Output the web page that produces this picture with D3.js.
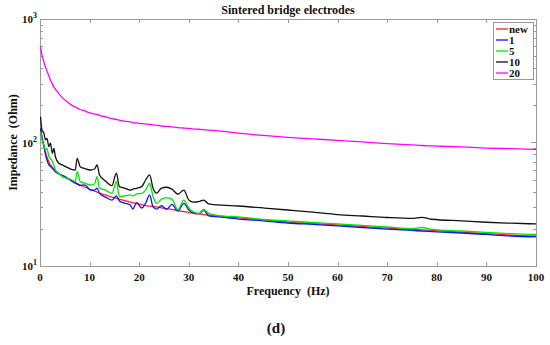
<!DOCTYPE html>
<html>
<head>
<meta charset="utf-8">
<script src="https://cdn.jsdelivr.net/npm/d3@7"></script>
<style>
  body { margin: 0; background: #fff; }
</style>
</head>
<body>
<div id="chart"></div>
<script>
// frequency grid (Hz) shared by all series
const freq = [0.1, 0.4, 0.8, 1.1, 1.4, 1.8, 2.1, 2.5, 2.8, 3.1, 3.8, 4.5, 5.5, 6.5, 7.1, 7.5, 8.1, 9, 10.2, 11,
	11.5, 12, 13.2, 14.5, 15.4, 16, 17, 18.2, 18.7, 19.5, 20.5, 21.3, 22.1, 22.8, 23.5, 24.5, 25.5, 26.6, 27.8, 29,
	30, 31, 32, 33, 34, 36, 40, 45, 50, 55, 60, 65, 70, 75, 77, 79, 85, 90, 95, 100];

// impedance (Ohm) per electrode state
const zNew = [131, 111, 93.5, 83.5, 76.3, 69.5, 65.8, 62.9, 61.0, 59.3, 56.1, 53.5, 51.0, 48.8, 47.5, 46.6, 45.3, 43.6, 41.6, 40.4,
	39.7, 38.9, 37.6, 36.1, 35.5, 34.8, 33.9, 32.9, 32.6, 32.0, 31.4, 30.8, 30.5, 30.3, 30.1, 29.5, 29.2, 28.7, 28.1, 27.6,
	27.1, 26.9, 26.6, 26.1, 25.8, 25.4, 24.5, 23.6, 22.7, 22.1, 21.5, 20.9, 20.3, 19.8, 19.6, 19.4, 18.8, 18.3, 17.8, 17.5];
const z1 = [130, 109, 92.5, 80.6, 72.1, 65.8, 64.1, 61.6, 59.9, 58.0, 55.6, 54.1, 51.6, 48.4, 46.8, 46.1, 44.9, 45.3, 41.2, 41.2,
	42.6, 38.9, 36.1, 34.2, 36.9, 33.6, 32.3, 31.2, 28.9, 32.6, 29.5, 32.2, 37.6, 30.1, 28.9, 30.8, 28.8, 31.6, 27.9, 32.2,
	28.4, 26.7, 26.4, 28.4, 25.5, 25.0, 24.0, 23.2, 22.3, 21.7, 21.1, 20.5, 19.9, 19.4, 19.2, 19.0, 18.5, 18.0, 17.5, 17.2];
const z5 = [122, 105, 95.3, 86.9, 89.6, 76.7, 74.2, 70, 65.8, 59.9, 56.1, 52.9, 51.3, 49.7, 48.2, 58.1, 48.2, 46.9, 45.3, 46.1,
	52.9, 42.6, 41.2, 38.8, 48.2, 36.4, 36.9, 37.6, 36.9, 38.3, 38.8, 41.2, 46.8, 36.4, 32.2, 34.8, 35.6, 34.8, 28.4, 34.2,
	29.5, 27.3, 26.6, 28.6, 26.7, 25.6, 25.0, 23.8, 23.2, 22.5, 21.9, 21.3, 20.7, 20.1, 20.5, 19.8, 19.2, 18.7, 18.3, 18.0];
const z10 = [162, 126, 119, 105, 108, 92.5, 99, 81.6, 89.6, 76.7, 67.9, 65.8, 62.9, 60.4, 59.9, 74.5, 63.7, 61.6, 59.9, 61,
	65.8, 54.6, 48.8, 44.8, 56.4, 43.9, 42.8, 41.2, 41.9, 42.6, 43.9, 49.7, 54.6, 42.6, 38.9, 42.8, 43.4, 41.9, 38.1, 41.2,
	34.2, 32.9, 33.2, 34.2, 31.8, 31.2, 30.6, 29.5, 28.4, 27.3, 26.1, 25.4, 24.7, 24.3, 24.8, 23.9, 23.2, 22.6, 22.2, 21.9];
const z20 = [600, 511, 448, 409, 379, 345, 321, 298, 281, 271, 249, 231, 213, 199, 194, 190, 185, 180, 173, 170,
	169, 166, 161, 156, 154, 152, 149, 147, 145, 144, 142, 141, 140, 139, 138, 136, 135, 134, 132, 131,
	130, 128.5, 128, 127, 126, 124, 119, 114, 110, 107, 104, 101, 98, 95.5, 94.6, 93.8, 92, 90.2, 89.1, 88.1];

const seriesNames = ["new", "1", "5", "10", "20"];
const seriesValues = [zNew, z1, z5, z10, z20];
const seriesColors = ["#ff2020", "#1010ff", "#00e600", "#111111", "#ff00ff"];

const xTickValues = [0, 10, 20, 30, 40, 50, 60, 70, 80, 90, 100];
const yMajor = [10, 100, 1000];

const width = 550, height = 345;
const margin = { top: 19, right: 14, bottom: 79, left: 40 };

const svg = d3.select("#chart").append("svg")
	.attr("width", width)
	.attr("height", height)
	.attr("font-family", "'Liberation Serif', serif")
	.attr("font-weight", "bold")
	.attr("fill", "#111");

const xScale = d3.scaleLinear().domain([0, 100]).range([margin.left, width - margin.right]);
const yScale = d3.scaleLog().domain([10, 1000]).range([height - margin.bottom, margin.top]);

const x0 = xScale.range()[0], x1 = xScale.range()[1];
const yB = yScale.range()[0], yT = yScale.range()[1];

// minor log ticks
const yMinor = [];
for (const dec of [10, 100]) {
	for (let m = 2; m <= 9; m++) yMinor.push(dec * m);
}

const frame = svg.append("g").attr("stroke", "#9a9a9a").attr("stroke-width", 1).attr("fill", "none");
frame.append("rect")
	.attr("x", x0 + 0.5).attr("y", yT + 0.5)
	.attr("width", x1 - x0).attr("height", yB - yT);

// x ticks (bottom and top, inward)
frame.selectAll(".xt")
	.data(xTickValues)
	.join("path")
	.attr("d", (d) => {
		const x = Math.round(xScale(d)) + 0.5;
		return `M${x},${yB}v-4M${x},${yT}v4`;
	});

// y ticks (left and right)
frame.selectAll(".ymin")
	.data(yMinor)
	.join("path")
	.attr("d", (d) => {
		const y = Math.round(yScale(d)) + 0.5;
		return `M${x0},${y}h3M${x1},${y}h-3`;
	});
frame.selectAll(".ymaj")
	.data(yMajor)
	.join("path")
	.attr("d", (d) => {
		const y = Math.round(yScale(d)) + 0.5;
		return `M${x0},${y}h5M${x1},${y}h-5`;
	});

// data lines
const plot = svg.append("g");
plot.append("clipPath").attr("id", "clip")
	.append("rect").attr("x", x0).attr("y", yT).attr("width", x1 - x0).attr("height", yB - yT);

const line = d3.line()
	.x((d) => xScale(d[0]))
	.y((d) => yScale(d[1]))
	.curve(d3.curveMonotoneX);

plot.selectAll(".series")
	.data(seriesValues)
	.join("path")
	.attr("class", "series")
	.attr("clip-path", "url(#clip)")
	.attr("fill", "none")
	.attr("stroke", (d, i) => seriesColors[i])
	.attr("stroke-width", 1.3)
	.attr("d", (vals) => line(freq.map((f, j) => [f, vals[j]])));

// x tick labels
svg.append("g").selectAll("text")
	.data(xTickValues)
	.join("text")
	.attr("x", (d) => xScale(d))
	.attr("y", yB + 15)
	.attr("text-anchor", "middle")
	.attr("font-size", 11)
	.text((d) => d);

// y tick labels 10^n
const yLab = svg.append("g").selectAll("text")
	.data(yMajor)
	.join("text")
	.attr("x", x0 - 3)
	.attr("y", (d) => yScale(d) + 4)
	.attr("text-anchor", "end")
	.attr("font-size", 11);
yLab.append("tspan").text("10");
yLab.append("tspan").attr("font-size", 8).attr("dy", -5).text((d) => Math.round(Math.log10(d)));

// axis titles
svg.append("text")
	.attr("x", (x0 + x1) / 2)
	.attr("y", yB + 29)
	.attr("text-anchor", "middle")
	.attr("font-size", 12)
	.attr("xml:space", "preserve")
	.text("Frequency  (Hz)");

svg.append("text")
	.attr("transform", `translate(17,${(yT + yB) / 2}) rotate(-90)`)
	.attr("text-anchor", "middle")
	.attr("font-size", 12)
	.attr("xml:space", "preserve")
	.text("Impedance  (Ohm)");

svg.append("text")
	.attr("x", (x0 + x1) / 2)
	.attr("y", 14)
	.attr("text-anchor", "middle")
	.attr("font-size", 12)
	.text("Sintered bridge electrodes");

// legend
const legend = svg.append("g").attr("transform", "translate(493,22)");
legend.append("rect")
	.attr("x", 0.5).attr("y", 0.5)
	.attr("width", 40).attr("height", 57)
	.attr("fill", "#fff")
	.attr("stroke", "#9a9a9a");
const rows = legend.selectAll(".row")
	.data(seriesNames)
	.join("g")
	.attr("transform", (d, i) => `translate(0,${7 + i * 11})`);
rows.append("line")
	.attr("x1", 3).attr("x2", 15)
	.attr("stroke", (d, i) => seriesColors[i])
	.attr("stroke-width", 1.3);
rows.append("text")
	.attr("x", 16)
	.attr("y", 4)
	.attr("font-size", 11)
	.text((d) => d);

// panel label
svg.append("text")
	.attr("x", 276)
	.attr("y", 333)
	.attr("text-anchor", "middle")
	.attr("font-size", 15)
	.text("(d)");
</script>
</body>
</html>
